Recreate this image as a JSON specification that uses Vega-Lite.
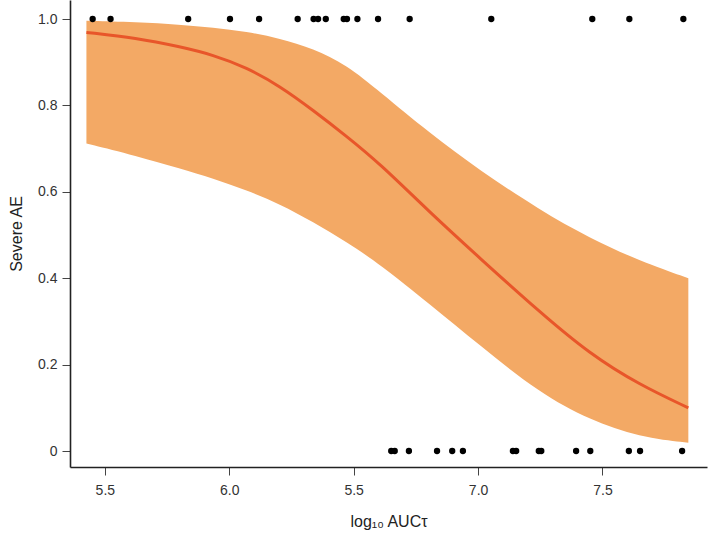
{
  "$schema": "https://vega.github.io/schema/vega-lite/v6.json",
  "autosize": "none",
  "width": 637,
  "height": 467,
  "padding": {"left": 70, "top": 0, "right": 2, "bottom": 70},
  "background": "white",
  "config": {
    "view": {"stroke": null},
    "font": "Liberation Sans",
    "axis": {
      "domainColor": "#222222",
      "domainWidth": 1.6,
      "tickColor": "#444444",
      "tickWidth": 1,
      "tickSize": 8,
      "grid": false,
      "labelFont": "Liberation Sans",
      "labelFontSize": 14,
      "labelColor": "#333333",
      "titleFont": "Liberation Sans",
      "titleFontSize": 16,
      "titleFontWeight": "normal",
      "titleColor": "#222222"
    }
  },
  "datasets": {
    "band": [
      {"x": 5.426, "lo": 0.712, "hi": 0.996, "fit": 0.969},
      {"x": 5.627, "lo": 0.683, "hi": 0.993, "fit": 0.956},
      {"x": 5.801, "lo": 0.654, "hi": 0.987, "fit": 0.936},
      {"x": 5.935, "lo": 0.631, "hi": 0.980, "fit": 0.917},
      {"x": 6.069, "lo": 0.604, "hi": 0.971, "fit": 0.888},
      {"x": 6.203, "lo": 0.572, "hi": 0.955, "fit": 0.845},
      {"x": 6.337, "lo": 0.530, "hi": 0.932, "fit": 0.789},
      {"x": 6.471, "lo": 0.484, "hi": 0.894, "fit": 0.729},
      {"x": 6.604, "lo": 0.433, "hi": 0.832, "fit": 0.666},
      {"x": 6.805, "lo": 0.340, "hi": 0.736, "fit": 0.553},
      {"x": 7.006, "lo": 0.245, "hi": 0.650, "fit": 0.447},
      {"x": 7.247, "lo": 0.134, "hi": 0.558, "fit": 0.322},
      {"x": 7.448, "lo": 0.072, "hi": 0.493, "fit": 0.225},
      {"x": 7.649, "lo": 0.032, "hi": 0.440, "fit": 0.153},
      {"x": 7.845, "lo": 0.019, "hi": 0.400, "fit": 0.100}
    ],
    "obs": [
      {"x": 5.451, "y": 1}, {"x": 5.523, "y": 1}, {"x": 5.835, "y": 1},
      {"x": 6.003, "y": 1}, {"x": 6.120, "y": 1}, {"x": 6.275, "y": 1},
      {"x": 6.339, "y": 1}, {"x": 6.357, "y": 1}, {"x": 6.388, "y": 1},
      {"x": 6.460, "y": 1}, {"x": 6.473, "y": 1}, {"x": 6.515, "y": 1},
      {"x": 6.598, "y": 1}, {"x": 6.725, "y": 1}, {"x": 7.053, "y": 1},
      {"x": 7.459, "y": 1}, {"x": 7.608, "y": 1}, {"x": 7.825, "y": 1},
      {"x": 6.651, "y": 0}, {"x": 6.665, "y": 0}, {"x": 6.722, "y": 0},
      {"x": 6.835, "y": 0}, {"x": 6.896, "y": 0}, {"x": 6.939, "y": 0},
      {"x": 7.140, "y": 0}, {"x": 7.153, "y": 0}, {"x": 7.244, "y": 0},
      {"x": 7.254, "y": 0}, {"x": 7.394, "y": 0}, {"x": 7.451, "y": 0},
      {"x": 7.606, "y": 0}, {"x": 7.651, "y": 0}, {"x": 7.820, "y": 0}
    ]
  },
  "layer": [
    {
      "data": {"name": "band"},
      "mark": {"type": "area", "color": "#F3A965", "opacity": 1, "interpolate": "basis"},
      "encoding": {
        "x": {"field": "x", "type": "quantitative",
          "scale": {"domain": [5.36, 7.92], "nice": false, "zero": false},
          "axis": {"title": "log₁₀ AUCτ", "values": [5.5, 6.0, 6.5, 7.0, 7.5],
            "labelExpr": "datum.value == 6.5 ? '5.5' : format(datum.value, '.1f')",
            "labelPadding": 8, "titlePadding": 16}},
        "y": {"field": "lo", "type": "quantitative",
          "scale": {"domain": [-0.037, 1.044], "nice": false, "zero": false},
          "axis": {"title": "Severe AE", "values": [0, 0.2, 0.4, 0.6, 0.8, 1.0],
            "labelExpr": "datum.value == 0 ? '0' : format(datum.value, '.1f')",
            "labelPadding": 5, "titlePadding": 13}},
        "y2": {"field": "hi"}
      }
    },
    {
      "data": {"name": "band"},
      "mark": {"type": "line", "color": "#E8562A", "strokeWidth": 3, "interpolate": "basis"},
      "encoding": {
        "x": {"field": "x", "type": "quantitative"},
        "y": {"field": "fit", "type": "quantitative"}
      }
    },
    {
      "data": {"name": "obs"},
      "mark": {"type": "circle", "color": "#000000", "size": 40, "opacity": 1},
      "encoding": {
        "x": {"field": "x", "type": "quantitative"},
        "y": {"field": "y", "type": "quantitative"}
      }
    }
  ]
}
